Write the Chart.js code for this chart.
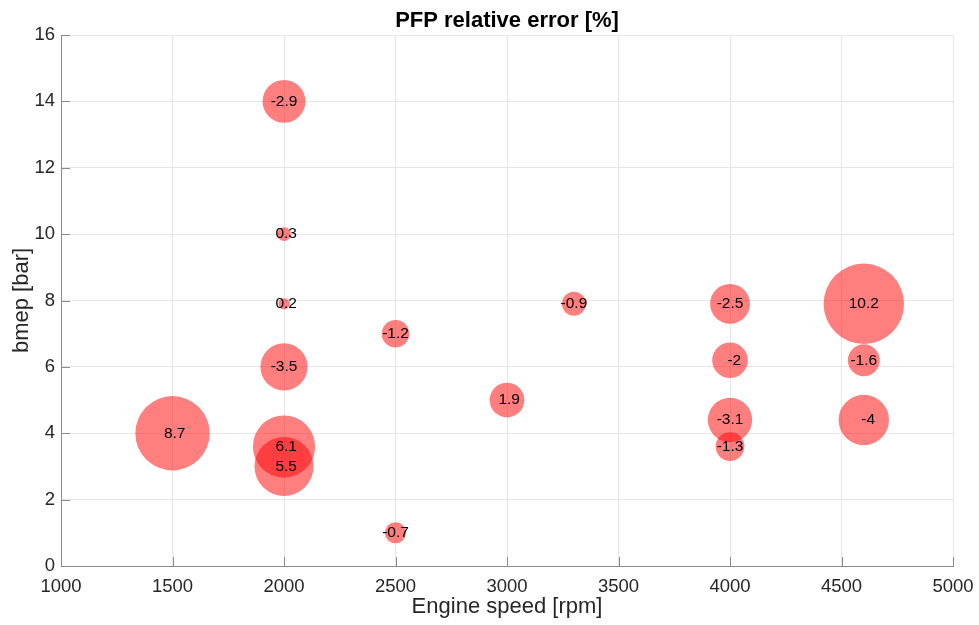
<!DOCTYPE html>
<html>
<head>
<meta charset="utf-8">
<script src="https://cdn.jsdelivr.net/npm/chart.js@4"></script>
<style>
  body { margin: 0; background: #fff; }
  canvas { display: block; }
</style>
</head>
<body>
<canvas id="pfpChart" width="979" height="625"></canvas>
<script>
// engine speed [rpm], bmep [bar] and relative error [%] for each operating point
const engineSpeed = [1500, 2000, 2000, 2000, 2000, 2000, 2000, 2500, 2500, 3000, 3300, 4000, 4000, 4000, 4000, 4600, 4600, 4600];
const bmep        = [4.0, 14.0, 10.0, 7.9, 6.0, 3.6, 3.0, 7.0, 1.0, 5.0, 7.9, 7.9, 6.2, 4.4, 3.6, 7.9, 6.2, 4.4];
const relError    = [8.7, -2.9, 0.3, 0.2, -3.5, 6.1, 5.5, -1.2, -0.7, 1.9, -0.9, -2.5, -2, -3.1, -1.3, 10.2, -1.6, -4];

const xTicks = [1000, 1500, 2000, 2500, 3000, 3500, 4000, 4500, 5000];
const yTicks = [0, 2, 4, 6, 8, 10, 12, 14, 16];

const chartTitle = 'PFP relative error [%]';

const FONT = '"Liberation Sans", Arial, Helvetica, sans-serif';
const AXIS_COLOR = '#8a8a8a';
const TEXT_COLOR = '#262626';

document.addEventListener('DOMContentLoaded', () => {
    const ctx = document.getElementById('pfpChart').getContext('2d');

    // bubble area scales with |error|
    const points = engineSpeed.map((s, i) => ({
        x: s,
        y: bmep[i],
        r: 12.6 * Math.sqrt(Math.abs(relError[i]))
    }));

    // value labels written on top of each bubble
    const bubbleLabels = {
        id: 'bubbleLabels',
        afterDatasetsDraw(chart) {
            const c = chart.ctx;
            const meta = chart.getDatasetMeta(0);
            c.save();
            c.font = '15.5px ' + FONT;
            c.fillStyle = '#000';
            c.textAlign = 'center';
            c.textBaseline = 'middle';
            meta.data.forEach((pt, i) => {
                const txt = String(relError[i]).padStart(4, ' ');
                c.fillText(txt, pt.x, pt.y);
            });
            c.restore();
        }
    };

    // inward tick marks + title centred over the plot area
    const axesDecor = {
        id: 'axesDecor',
        afterDraw(chart) {
            const c = chart.ctx;
            const xs = chart.scales.x, ys = chart.scales.y;
            const area = chart.chartArea;
            c.save();
            c.strokeStyle = AXIS_COLOR;
            c.lineWidth = 1;
            c.beginPath();
            xTicks.forEach(v => {
                const px = Math.round(xs.getPixelForValue(v)) + 0.5;
                c.moveTo(px, area.bottom);
                c.lineTo(px, area.bottom - 9);
            });
            yTicks.forEach(v => {
                const py = Math.round(ys.getPixelForValue(v)) + 0.5;
                c.moveTo(area.left, py);
                c.lineTo(area.left + 9, py);
            });
            c.stroke();

            c.font = 'bold 22px ' + FONT;
            c.fillStyle = '#000';
            c.textAlign = 'center';
            c.textBaseline = 'alphabetic';
            c.fillText(chartTitle, (area.left + area.right) / 2, 27);
            c.restore();
        }
    };

    new Chart(ctx, {
        type: 'bubble',
        data: {
            datasets: [{
                label: 'PFP relative error',
                data: points,
                backgroundColor: 'rgba(255, 0, 0, 0.5)',
                borderWidth: 0,
                hoverBorderWidth: 0
            }]
        },
        options: {
            responsive: false,
            animation: false,
            layout: {
                autoPadding: false,
                padding: { left: 0, right: 26, top: 35, bottom: 0 }
            },
            plugins: {
                legend: { display: false },
                tooltip: { enabled: false },
                title: { display: false }
            },
            scales: {
                x: {
                    type: 'linear',
                    min: 1000,
                    max: 5000,
                    afterBuildTicks: scale => { scale.ticks = xTicks.map(v => ({ value: v })); },
                    afterFit: scale => {
                        scale.height = 59;
                        scale.paddingLeft = 0;
                        scale.paddingRight = 0;
                    },
                    grid: { color: '#e6e6e6', drawTicks: false },
                    border: { display: true, color: AXIS_COLOR, width: 1 },
                    ticks: {
                        padding: 10,
                        color: TEXT_COLOR,
                        font: { family: FONT, size: 18.5 },
                        maxRotation: 0,
                        callback: v => String(v)
                    },
                    title: {
                        display: true,
                        text: 'Engine speed [rpm]',
                        color: TEXT_COLOR,
                        font: { family: FONT, size: 22, lineHeight: 1.2 },
                        padding: { top: 0, bottom: 5 }
                    }
                },
                y: {
                    type: 'linear',
                    min: 0,
                    max: 16,
                    afterBuildTicks: scale => { scale.ticks = yTicks.map(v => ({ value: v })); },
                    afterFit: scale => {
                        scale.width = 61;
                        scale.paddingTop = 0;
                        scale.paddingBottom = 0;
                    },
                    grid: { color: '#e6e6e6', drawTicks: false },
                    border: { display: true, color: AXIS_COLOR, width: 1 },
                    ticks: {
                        padding: 6,
                        color: TEXT_COLOR,
                        font: { family: FONT, size: 18.5 },
                        callback: v => String(v)
                    },
                    title: {
                        display: true,
                        text: 'bmep [bar]',
                        color: TEXT_COLOR,
                        font: { family: FONT, size: 22, lineHeight: 1.2 },
                        padding: { top: 9, bottom: 0 }
                    }
                }
            }
        },
        plugins: [bubbleLabels, axesDecor]
    });
});
</script>
</body>
</html>
